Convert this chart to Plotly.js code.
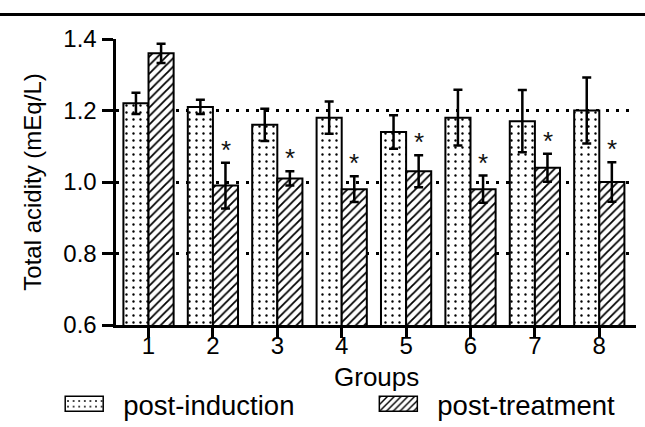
<!DOCTYPE html>
<html>
<head>
<meta charset="utf-8">
<script src="https://cdn.plot.ly/plotly-3.0.1.min.js"></script>
<style>
  html, body { margin: 0; padding: 0; background: #fff; }
  #chart { width: 645px; height: 427px; }
</style>
</head>
<body>
<div id="chart"></div>
<script>
// ---- data ----
const groups = ['1', '2', '3', '4', '5', '6', '7', '8'];
const postInduction   = [1.22, 1.21, 1.16, 1.18, 1.14, 1.18, 1.17, 1.20];
const postInductionSE = [0.03, 0.02, 0.045, 0.045, 0.047, 0.078, 0.087, 0.092];
const postTreatment   = [1.36, 0.99, 1.01, 0.98, 1.03, 0.98, 1.04, 1.00];
const postTreatmentSE = [0.027, 0.064, 0.02, 0.036, 0.045, 0.038, 0.039, 0.055];
const significance    = ['', '*', '*', '*', '*', '*', '*', '*'];
const seriesNames     = ['post-induction', 'post-treatment'];
const yTickVals       = [0.6, 0.8, 1.0, 1.2, 1.4];
const xTitle          = 'Groups';
const yTitle          = 'Total acidity (mEq/L)';

const FONT = 'Liberation Sans, Arial, sans-serif';

const errStyle = { type: 'data', visible: true, color: '#000', thickness: 2.5, width: 4.5 };

const traces = [
  {
    type: 'bar', name: seriesNames[0], x: groups, y: postInduction, legend: 'legend',
    error_y: Object.assign({ array: postInductionSE }, errStyle),
    marker: {
      color: '#fff',
      line: { color: '#000', width: 2 },
      pattern: { shape: '.', size: 7, solidity: 0.09, fgcolor: '#000', bgcolor: '#fff', fillmode: 'replace' }
    }
  },
  {
    type: 'bar', name: seriesNames[1], x: groups, y: postTreatment, legend: 'legend2',
    error_y: Object.assign({ array: postTreatmentSE }, errStyle),
    marker: {
      color: '#fff',
      line: { color: '#000', width: 2 },
      pattern: { shape: '/', size: 6, solidity: 0.3, fgcolor: '#000', bgcolor: '#fff', fillmode: 'replace' }
    }
  }
];

const annotations = [];
groups.forEach((g, i) => {
  if (significance[i]) {
    annotations.push({
      xref: 'x', yref: 'y', x: i, y: postTreatment[i] + postTreatmentSE[i],
      text: significance[i], showarrow: false,
      xshift: 12.6, yshift: -4, yanchor: 'bottom',
      font: { family: FONT, size: 26, color: '#111' }
    });
  }
});
// x-axis title, placed below the tick labels
annotations.push({
  xref: 'paper', yref: 'paper', x: 0.5, y: -0.1818, xanchor: 'center', yanchor: 'middle',
  text: xTitle, showarrow: false,
  font: { family: FONT, size: 26, color: '#000' }
});

const legendBase = {
  orientation: 'h', xref: 'container', yref: 'container',
  xanchor: 'left', y: 0.054, yanchor: 'middle',
  itemwidth: 50,
  font: { family: FONT, size: 27.5, color: '#000' },
  borderwidth: 0, bgcolor: 'rgba(0,0,0,0)'
};

const layout = {
  width: 645, height: 427,
  margin: { l: 116, r: 9, t: 39, b: 102, pad: 0 },
  paper_bgcolor: '#fff', plot_bgcolor: 'rgba(0,0,0,0)',
  font: { family: FONT, color: '#000' },
  barmode: 'group', bargap: 0.22, bargroupgap: 0,
  showlegend: true,
  legend: Object.assign({}, legendBase, { x: 0.098 }),
  legend2: Object.assign({}, legendBase, { x: 0.585 }),
  xaxis: {
    type: 'category', categoryorder: 'array', categoryarray: groups,
    range: [-0.505, 7.57], autorange: false, automargin: false,
    showline: true, linecolor: '#000', linewidth: 3,
    ticks: 'outside', ticklen: 10, tickwidth: 3, tickcolor: '#000',
    ticklabelstandoff: -13,
    tickfont: { family: FONT, size: 24, color: '#000' },
    showgrid: false, zeroline: false
  },
  yaxis: {
    range: [0.6, 1.4], autorange: false, automargin: false,
    tickmode: 'array', tickvals: yTickVals, ticktext: yTickVals.map(v => v.toFixed(1)),
    showline: true, linecolor: '#000', linewidth: 3.5,
    ticks: 'outside', ticklen: 11, tickwidth: 3, tickcolor: '#000',
    tickfont: { family: FONT, size: 24, color: '#000' },
    showgrid: true, gridcolor: '#000', gridwidth: 3, griddash: '3px,7px',
    zeroline: false,
    title: { text: yTitle, font: { family: FONT, size: 24, color: '#000' }, standoff: 16 }
  },
  annotations: annotations,
  shapes: [{
    type: 'line', xref: 'paper', yref: 'paper', x0: -0.3, x1: 1.1, y0: 1.0857, y1: 1.0857,
    line: { color: '#000', width: 3 }
  }]
};

Plotly.newPlot('chart', traces, layout, { staticPlot: true, displayModeBar: false }).then(() => {
  // widen the legend swatches to the reference's wide rectangles
  document.querySelectorAll('.legendpoints path').forEach(p => {
    p.setAttribute('d', 'M10,7.5H-28V-7.5H10Z');
    p.style.strokeWidth = '1.5px';
  });
});
</script>
</body>
</html>
